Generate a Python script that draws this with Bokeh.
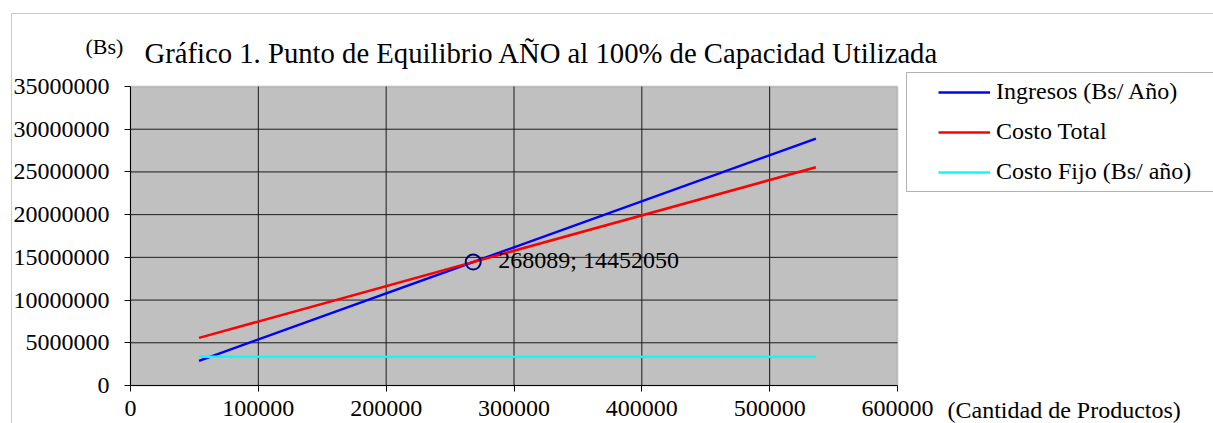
from bokeh.plotting import figure
from bokeh.models import (Range1d, FixedTicker, BasicTickFormatter, Label,
                          BoxAnnotation, Legend, LegendItem)
from bokeh.embed import file_html
from bokeh.resources import INLINE

# ---- data ----
cantidad = [53618, 536178]
ingresos = [2890410, 28904100]
costo_total = [5572800, 25550800]
costo_fijo = [3353000, 3353000]
equilibrio_x = [268089]
equilibrio_y = [14452050]
equilibrio_txt = "268089; 14452050"
x_ticks = [0, 100000, 200000, 300000, 400000, 500000, 600000]
y_ticks = [0, 5000000, 10000000, 15000000, 20000000, 25000000, 30000000, 35000000]
titulo = "Gráfico 1. Punto de Equilibrio AÑO al 100% de Capacidad Utilizada"
unidad_y = "(Bs)"
unidad_x = "(Cantidad de Productos)"
series_names = ["Ingresos (Bs/ Año)", "Costo Total", "Costo Fijo (Bs/ año)"]

FONT = "Liberation Serif"

# ---- layout (pixels of the page) ----
W, H = 1213, 423
PX0, PX1 = 130, 897      # plot area left / right
PY0, PY1 = 385, 86       # plot area bottom / top

sx = (x_ticks[-1] - x_ticks[0]) / (PX1 - PX0)
sy = (y_ticks[-1] - y_ticks[0]) / (PY0 - PY1)
x_start = x_ticks[0] - PX0 * sx
y_start = y_ticks[0] - (H - PY0) * sy


def px2x(px):
    return x_start + px * sx


def py2y(py):
    return y_start + (H - py) * sy


p = figure(width=W, height=H, output_backend="svg", toolbar_location=None,
           x_range=Range1d(x_start, x_start + W * sx),
           y_range=Range1d(y_start, y_start + H * sy),
           min_border=0)
p.title.visible = False
p.background_fill_color = "white"
p.border_fill_color = "white"
p.outline_line_color = None
p.xgrid.grid_line_color = None
p.ygrid.grid_line_color = None

# plot area background
p.add_layout(BoxAnnotation(left=x_ticks[0], right=x_ticks[-1],
                           bottom=y_ticks[0], top=y_ticks[-1],
                           fill_color="#C0C0C0", fill_alpha=1,
                           line_color="#808080", line_width=2, level="underlay"))

# grid lines at the inner ticks
gx = x_ticks[1:-1]
gy = y_ticks[1:-1]
p.segment(x0=gx, x1=gx, y0=[y_ticks[0]] * len(gx), y1=[y_ticks[-1]] * len(gx),
          line_color="#1a1a1a", line_width=1)
p.segment(x0=[x_ticks[0]] * len(gy), x1=[x_ticks[-1]] * len(gy), y0=gy, y1=gy,
          line_color="#1a1a1a", line_width=1)

# axes fixed at the origin
p.xaxis.fixed_location = 0
p.yaxis.fixed_location = 0
p.xaxis.bounds = (x_ticks[0], x_ticks[-1])
p.yaxis.bounds = (y_ticks[0], y_ticks[-1])
p.xaxis.ticker = FixedTicker(ticks=x_ticks)
p.yaxis.ticker = FixedTicker(ticks=y_ticks)
for ax in (p.xaxis[0], p.yaxis[0]):
    ax.formatter = BasicTickFormatter(use_scientific=False)
    ax.axis_line_color = "black"
    ax.axis_line_width = 1
    ax.major_tick_line_color = "black"
    ax.major_tick_out = 6
    ax.major_tick_in = 0
    ax.minor_tick_line_color = None
    ax.major_label_text_font = FONT
    ax.major_label_text_font_size = "24px"
    ax.major_label_text_color = "black"
p.yaxis.major_label_standoff = 15
p.xaxis.major_label_standoff = 9

r1 = p.line(cantidad, ingresos, line_color="#0000FF", line_width=2.5)
r2 = p.line(cantidad, costo_total, line_color="#FF0000", line_width=2.5)
r3 = p.line(cantidad, costo_fijo, line_color="#00FFFF", line_width=2.5)

p.scatter(equilibrio_x, equilibrio_y, marker="circle", size=15,
          fill_color=None, line_color="#000080", line_width=2)
p.add_layout(Label(x=equilibrio_x[0], y=equilibrio_y[0], text=equilibrio_txt,
                   x_offset=25, y_offset=2, text_baseline="middle", text_font=FONT,
                   text_font_size="24px", text_color="black"))

# titles / units (screen units: x from left, y up from bottom)
p.add_layout(Label(x=144, y=H - 52, x_units="screen", y_units="screen", text=titulo,
                   text_font=FONT, text_font_size="28.7px", text_color="black",
                   text_baseline="alphabetic"))
p.add_layout(Label(x=85, y=H - 46, x_units="screen", y_units="screen", text=unidad_y,
                   text_font=FONT, text_font_size="22px", text_color="black",
                   text_baseline="alphabetic"))
p.add_layout(Label(x=947, y=H - 409, x_units="screen", y_units="screen", text=unidad_x,
                   text_font=FONT, text_font_size="24px", text_color="black",
                   text_baseline="alphabetic"))

# outer chart border and legend box
p.add_layout(BoxAnnotation(left=px2x(11), right=px2x(W + 50), top=py2y(13),
                           bottom=py2y(H + 50), fill_color=None,
                           line_color="#505050", line_width=1))
p.add_layout(BoxAnnotation(left=px2x(906), right=px2x(W + 50), top=py2y(72),
                           bottom=py2y(191), fill_color=None,
                           line_color="black", line_width=1))

legend = Legend(items=[LegendItem(label=series_names[0], renderers=[r1]),
                       LegendItem(label=series_names[1], renderers=[r2]),
                       LegendItem(label=series_names[2], renderers=[r3])],
                location=(938 - 7, H - 192), padding=7, spacing=13,
                glyph_width=52, glyph_height=26, label_height=26,
                label_standoff=6, label_text_font=FONT,
                label_text_font_size="24px", label_text_color="black",
                border_line_alpha=0, background_fill_alpha=0, margin=0)
p.add_layout(legend, "center")

open("out.html", "w").write(file_html(p, INLINE))
